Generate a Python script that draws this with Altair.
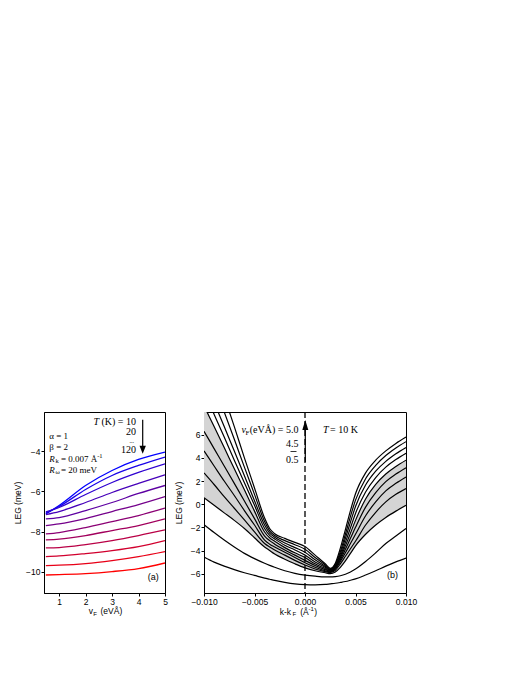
import altair as alt
import pandas as pd

SANS = "Liberation Sans"
SERIF = "Liberation Serif"

# ---------------- Panel (a) data ----------------
vF_a = [0.5, 1.0, 2.0, 3.0, 4.0, 5.0]
T_list = [10, 20, 30, 40, 50, 60, 70, 80, 90, 100, 110, 120]
leg_a = [
    [-7.12, -6.70, -5.70, -4.95, -4.40, -4.03],
    [-7.08, -6.75, -5.90, -5.20, -4.70, -4.28],
    [-7.02, -6.80, -6.15, -5.55, -5.05, -4.62],
    [-7.15, -7.00, -6.55, -6.05, -5.60, -5.17],
    [-7.37, -7.30, -6.95, -6.55, -6.10, -5.70],
    [-7.70, -7.62, -7.35, -7.00, -6.65, -6.25],
    [-8.12, -8.05, -7.80, -7.50, -7.20, -6.83],
    [-8.42, -8.38, -8.20, -7.95, -7.70, -7.37],
    [-8.82, -8.80, -8.65, -8.45, -8.20, -7.92],
    [-9.25, -9.22, -9.10, -8.95, -8.75, -8.45],
    [-9.70, -9.68, -9.60, -9.45, -9.25, -9.00],
    [-10.17, -10.15, -10.10, -10.00, -9.85, -9.57],
]

# ---------------- Panel (b) data ----------------
k_b = [-0.010, -0.009, -0.008, -0.007, -0.006, -0.005, -0.004, -0.0035, -0.003,
       -0.002, -0.001, 0.0, 0.001, 0.002, 0.0025, 0.003, 0.0035, 0.004, 0.0045,
       0.005, 0.006, 0.007, 0.008, 0.009, 0.010]
c1 = [-4.56, -5.0, -5.35, -5.65, -5.92, -6.15, -6.38, -6.48, -6.58, -6.75, -6.88, -6.95, -6.97,
      -6.93, -6.88, -6.83, -6.76, -6.68, -6.57, -6.45, -6.12, -5.75, -5.35, -4.98, -4.65]
c2 = [-1.77, -2.45, -3.1, -3.7, -4.25, -4.7, -5.1, -5.28, -5.45, -5.75, -5.97, -6.12, -6.22,
      -6.28, -6.28, -6.25, -6.18, -6.05, -5.85, -5.6, -4.95, -4.2, -3.4, -2.75, -2.1]
c3 = [0.56, -0.1, -0.75, -1.4, -2.1, -2.9, -3.7, -4.0, -4.3, -4.75, -5.15, -5.5, -5.75,
      -5.92, -6.0, -5.85, -5.45, -4.9, -4.25, -3.6, -2.6, -1.8, -1.15, -0.6, -0.1]
c4 = [2.7, 1.7, 0.65, -0.35, -1.35, -2.4, -3.4, -3.7, -3.95, -4.4, -4.85, -5.25, -5.6,
      -5.82, -5.9, -5.7, -5.15, -4.5, -3.85, -3.2, -1.8, -0.7, 0.2, 0.85, 1.35]
c5 = [4.6, 3.3, 2.0, 0.75, -0.55, -1.8, -3.1, -3.45, -3.7, -4.15, -4.6, -5.05, -5.45,
      -5.75, -5.85, -5.6, -4.95, -4.2, -3.4, -2.6, -1.0, 0.2, 1.15, 1.8, 2.35]
c6 = [6.3, 4.8, 3.3, 1.8, 0.27, -1.25, -2.75, -3.15, -3.45, -3.95, -4.4, -4.85, -5.3,
      -5.65, -5.8, -5.5, -4.8, -3.9, -2.95, -2.0, -0.25, 1.0, 1.95, 2.6, 3.15]
c7 = [8.5, 6.7, 4.9, 3.05, 1.25, -0.6, -2.4, -2.9, -3.2, -3.75, -4.2, -4.6, -5.15,
      -5.55, -5.75, -5.45, -4.65, -3.6, -2.5, -1.4, 0.45, 1.7, 2.6, 3.25, 3.8]
c8 = [9.7, 7.76, 5.8, 3.8, 1.85, -0.1, -2.1, -2.7, -3.0, -3.55, -3.95, -4.4, -5.0,
      -5.45, -5.7, -5.4, -4.5, -3.3, -2.05, -0.8, 1.05, 2.3, 3.2, 3.85, 4.4]
c9 = [10.9, 8.8, 6.7, 4.6, 2.45, 0.3, -1.8, -2.5, -2.85, -3.35, -3.75, -4.15, -4.8,
      -5.35, -5.65, -5.3, -4.3, -2.95, -1.55, -0.2, 1.65, 2.85, 3.7, 4.35, 4.9]
c10 = [12.7, 10.3, 7.96, 5.6, 3.2, 0.85, -1.5, -2.3, -2.7, -3.15, -3.5, -3.9, -4.6,
       -5.25, -5.6, -5.2, -4.1, -2.6, -1.05, 0.35, 2.2, 3.35, 4.2, 4.85, 5.4]
c11 = [14.5, 11.9, 9.3, 6.7, 4.0, 1.4, -1.2, -2.1, -2.55, -2.95, -3.3, -3.65, -4.4,
       -5.15, -5.55, -5.1, -3.8, -2.2, -0.55, 0.9, 2.7, 3.8, 4.6, 5.25, 5.8]
curves_b = [c1, c2, c3, c4, c5, c6, c7, c8, c9, c10, c11]

# ---------------- tables ----------------
rows_a = []
for T, ys in zip(T_list, leg_a):
    for x, y in zip(vF_a, ys):
        rows_a.append({"vF": x, "LEG": y, "T": T})
df_a = pd.DataFrame(rows_a)

rows_b = []
for i, ys in enumerate(curves_b):
    for x, y in zip(k_b, ys):
        rows_b.append({"k": x, "LEG": y, "curve": i})
df_b = pd.DataFrame(rows_b)
df_band = pd.DataFrame({"k": k_b, "lo": c3, "hi": c7})

colors_a = ["#%02x00%02x" % (round(255 * i / 11), 255 - round(255 * i / 11)) for i in range(12)]

WA, HA = 121, 181
WB, HB = 202, 181


def txt(s, x, y, size=10, font=SERIF, style="normal", align="left", baseline="middle"):
    return alt.Chart(alt.Data(values=[{}])).mark_text(
        text=s, fontSize=size, font=font, fontStyle=style, align=align,
        baseline=baseline, color="black"
    ).encode(x=alt.value(x), y=alt.value(y))


def rule(x, y1, y2, dash=None, width=1.2):
    kw = dict(color="black", strokeWidth=width)
    if dash:
        kw["strokeDash"] = dash
    return alt.Chart(alt.Data(values=[{}])).mark_rule(**kw).encode(
        x=alt.value(x), y=alt.value(y1), y2=alt.value(y2))


def hrule(x1, x2, y, width=0.8):
    return alt.Chart(alt.Data(values=[{}])).mark_rule(color="black", strokeWidth=width).encode(
        x=alt.value(x1), x2=alt.value(x2), y=alt.value(y))


def head(x, y, path, size):
    return alt.Chart(alt.Data(values=[{}])).mark_point(
        shape=path, size=size, filled=True, color="black", opacity=1, strokeWidth=0
    ).encode(x=alt.value(x), y=alt.value(y))


# ---------------- Panel (a) ----------------
xa = alt.X("vF:Q", scale=alt.Scale(domain=[0.43, 5.0], nice=False, zero=False),
           axis=alt.Axis(values=[1, 2, 3, 4, 5], title=None, format="d"))
ya = alt.Y("LEG:Q", scale=alt.Scale(domain=[-11.07, -2.03], nice=False, zero=False),
           axis=alt.Axis(values=[-10, -8, -6, -4], title="LEG  (meV)", titlePadding=3))

lines_a = alt.Chart(df_a).mark_line(clip=True, strokeWidth=1.3, interpolate="monotone").encode(
    x=xa, y=ya,
    color=alt.Color("T:O", scale=alt.Scale(domain=T_list, range=colors_a), legend=None),
)

layers_a = [lines_a,
            txt("T", 49.5, 10, style="italic"),
            txt("(K) = 10", 92, 10, align="right"),
            txt("20", 92, 20, align="right"),
            txt("...", 90, 28.5, size=6, align="right"),
            txt("120", 92, 37.7, align="right"),
            rule(98.7, 7.7, 38),
            head(98.7, 37.7, "M0,1L0.8,-1L-0.8,-1Z", 64),
            txt("α = 1", 5.3, 24.3, size=9),
            txt("β = 2", 5.3, 35, size=9),
            txt("R", 5.3, 46.7, size=9, style="italic"),
            txt("k", 11.6, 49.3, size=6.5),
            txt("= 0.007 Å", 17.0, 46.7, size=9),
            txt("-1", 53.2, 43.5, size=6.5),
            txt("R", 5.3, 57.7, size=9, style="italic"),
            txt("ω", 11.6, 60.3, size=6.5),
            txt("= 20 meV", 17.0, 57.7, size=9),
            txt("(a)", 109.3, 165, size=9, font=SANS, align="center"),
            txt("v", 44.7, 199.3, size=8.5, font=SANS),
            txt("F", 49.3, 201.5, size=6, font=SANS),
            txt("(eVÅ)", 56.5, 199.3, size=8.5, font=SANS),
            ]
panel_a = alt.layer(*layers_a).properties(width=WA, height=HA)

# ---------------- Panel (b) ----------------
yscale_b = alt.Scale(domain=[-7.67, 7.96], nice=False, zero=False)
yaxis_b = alt.Axis(values=[-6, -4, -2, 0, 2, 4, 6], title="LEG  (meV)", titlePadding=7,
                   labelOverlap=False)
xb = alt.X("k:Q", scale=alt.Scale(domain=[-0.010, 0.010], nice=False, zero=False),
           axis=alt.Axis(values=[-0.01, -0.005, 0, 0.005, 0.01], format=".3f", title=None))
yb = alt.Y("LEG:Q", scale=yscale_b, axis=yaxis_b)

band = alt.Chart(df_band).mark_area(clip=True, color="#d4d4d4", interpolate="monotone",
                                    opacity=1).encode(
    x=xb, y=alt.Y("lo:Q", scale=yscale_b, axis=yaxis_b),
    y2="hi:Q")
lines_b = alt.Chart(df_b).mark_line(clip=True, color="black", strokeWidth=1.2,
                                    interpolate="monotone").encode(
    x=xb, y=yb, detail="curve:N")
dash = alt.Chart(alt.Data(values=[{}])).mark_rule(
    color="black", strokeWidth=1.3, strokeDash=[6, 3]).encode(
    x=alt.datum(0), y=alt.value(0), y2=alt.value(HB))

layers_b = [band, lines_b, dash,
            txt("v", 37.4, 17.7, style="italic"),
            txt("F", 41.5, 20.5, size=7),
            txt("(eVÅ) = 5.0", 94.4, 17.7, align="right"),
            txt("4.5", 94.4, 31.5, align="right"),
            hrule(86.5, 92.5, 39.5),
            txt("0.5", 94.4, 48.3, align="right"),
            rule(101.3, 18, 50),
            head(101.3, 13, "M0,-1L0.6,1L-0.6,1Z", 100),
            txt("T", 119, 17.7, style="italic"),
            txt("= 10 K", 126, 17.7),
            txt("(b)", 188.4, 163, size=9, font=SANS, align="center"),
            txt("k-k", 75.7, 199.5, size=8.5, font=SANS),
            txt("F", 88.5, 201.8, size=6, font=SANS),
            txt("(Å", 96.2, 199.5, size=8.5, font=SANS),
            txt("-1", 104.6, 196.5, size=6, font=SANS),
            txt(")", 110.3, 199.5, size=8.5, font=SANS),
            ]
panel_b = alt.layer(*layers_b).properties(width=WB, height=HB)

chart = alt.hconcat(panel_a, panel_b, spacing=5).properties(
    padding={"left": 5, "top": 402, "right": 5, "bottom": 5}
).configure_view(stroke="black", strokeWidth=1).configure_axis(
    grid=False, domainColor="black", tickColor="black", tickSize=3, labelPadding=1,
    labelFont=SANS, labelFontSize=8.5, labelColor="black", labelFlush=False,
    labelOverlap=False,
    titleFont=SANS, titleFontSize=8.5, titleFontWeight="normal", titleColor="black",
    domainWidth=1, tickWidth=1,
)

chart.save("out.html", embed_options={"renderer": "svg", "actions": False})
